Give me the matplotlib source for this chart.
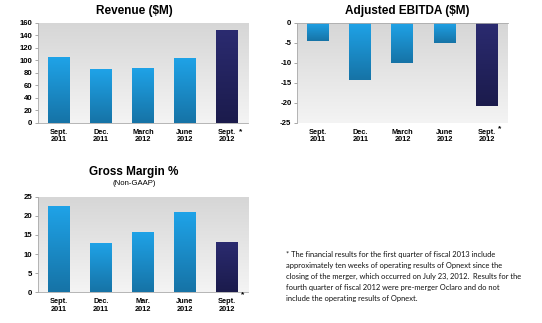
#!/usr/bin/env python3
"""Quarterly dashboard: revenue, adjusted EBITDA and non-GAAP gross margin."""

import numpy as np
import matplotlib
matplotlib.use("Agg")
import matplotlib.pyplot as plt  # noqa: E402
from matplotlib.colors import LinearSegmentedColormap  # noqa: E402

plt.rcParams["font.family"] = ["Liberation Sans", "DejaVu Sans"]

quarters = ["Sept.\n2011", "Dec.\n2011", "March\n2012", "June\n2012", "Sept.\n2012"]
quarters_gm = ["Sept.\n2011", "Dec.\n2011", "Mar.\n2012", "June\n2012", "Sept.\n2012"]
revenue = [105, 86, 88, 104, 148]
ebitda = [-4.5, -14.3, -10.0, -5.0, -20.7]
gross_margin = [22.6, 12.9, 15.9, 20.9, 13.1]

footnote = ("* The financial results for the first quarter of fiscal 2013 include\n"
            "approximately ten weeks of operating results of Opnext since the\n"
            "closing of the merger, which occurred on July 23, 2012.  Results for the\n"
            "fourth quarter of fiscal 2012 were pre-merger Oclaro and do not\n"
            "include the operating results of Opnext.")

bg_cmap = LinearSegmentedColormap.from_list("bg", ["#d6d6d6", "#f4f4f4"])
blue_cmap = LinearSegmentedColormap.from_list("blue", ["#1fa3e8", "#1673a6"])
navy_cmap = LinearSegmentedColormap.from_list("navy", ["#2b2b70", "#1b1b4c"])
grad = np.linspace(0, 1, 128).reshape(-1, 1)


def panel(ax, values, labels, ylim, yticks, star_xy):
    ax.set_xlim(-0.5, len(values) - 0.5)
    ax.set_ylim(*ylim)
    # gradient plot-area background
    ax.imshow(grad, cmap=bg_cmap, aspect="auto", zorder=0,
              extent=(-0.5, len(values) - 0.5, ylim[0], ylim[1]), origin="upper")
    bars = ax.bar(range(len(values)), values, width=0.52, color="none",
                  edgecolor="none", zorder=2)
    for i, b in enumerate(bars):
        cmap = navy_cmap if i == len(values) - 1 else blue_cmap
        x0, y0 = b.get_x(), min(0, b.get_height())
        y1 = max(0, b.get_height())
        im = ax.imshow(grad, cmap=cmap, aspect="auto", zorder=2, origin="upper",
                       extent=(x0, x0 + b.get_width(), y0, y1))
        im.set_clip_path(b)
    ax.set_xlim(-0.5, len(values) - 0.5)
    ax.set_ylim(*ylim)
    ax.set_xticks(range(len(values)))
    ax.set_xticklabels(labels, fontsize=5.3, fontweight="bold", linespacing=1.15)
    ax.set_yticks(yticks)
    ax.set_yticklabels([f"{t:g}" for t in yticks], fontsize=5.6, fontweight="bold")
    ax.tick_params(axis="x", length=0, pad=4)
    ax.tick_params(axis="y", length=2.5, width=0.6, color="#999999", pad=1.5)
    for s in ("top", "right"):
        ax.spines[s].set_visible(False)
    for s in ("left", "bottom"):
        ax.spines[s].set_color("#aaaaaa")
        ax.spines[s].set_linewidth(0.6)
    ax.text(*star_xy, "*", transform=ax.transAxes, fontsize=6, fontweight="bold",
            ha="center", va="center")


fig = plt.figure(figsize=(5.42, 3.23), dpi=100)

ax1 = fig.add_axes([0.0701, 0.6192, 0.3875, 0.3096])
panel(ax1, revenue, quarters, (0, 160), range(0, 161, 20), (0.967, -0.085))

ax2 = fig.add_axes([0.548, 0.6192, 0.389, 0.3096])
panel(ax2, ebitda, quarters, (-25, 0), range(-25, 1, 5), (0.962, -0.055))
ax2.spines["bottom"].set_visible(False)
ax2.spines["top"].set_visible(True)
ax2.spines["top"].set_color("#aaaaaa")
ax2.spines["top"].set_linewidth(0.6)

ax3 = fig.add_axes([0.0701, 0.0950, 0.3875, 0.296])
panel(ax3, gross_margin, quarters_gm, (0, 25), range(0, 26, 5), (0.976, -0.03))

fig.text(134 / 542, 1 - 11 / 323, "Revenue ($M)", fontsize=8.5, fontweight="bold",
         ha="center", va="center")
fig.text(407 / 542, 1 - 11 / 323, "Adjusted EBITDA ($M)", fontsize=8.5,
         fontweight="bold", ha="center", va="center")
fig.text(134 / 542, 1 - 172.5 / 323, "Gross Margin %", fontsize=8.5,
         fontweight="bold", ha="center", va="center")
fig.text(134 / 542, 1 - 183.5 / 323, "(Non-GAAP)", fontsize=5.6,
         ha="center", va="center")
fig.text(286 / 542, 1 - 251 / 323, footnote, fontsize=5.4, ha="left", va="top",
         linespacing=1.65, family=["Lato", "DejaVu Sans"], color="#111111")

fig.savefig("out.png", dpi=100)
